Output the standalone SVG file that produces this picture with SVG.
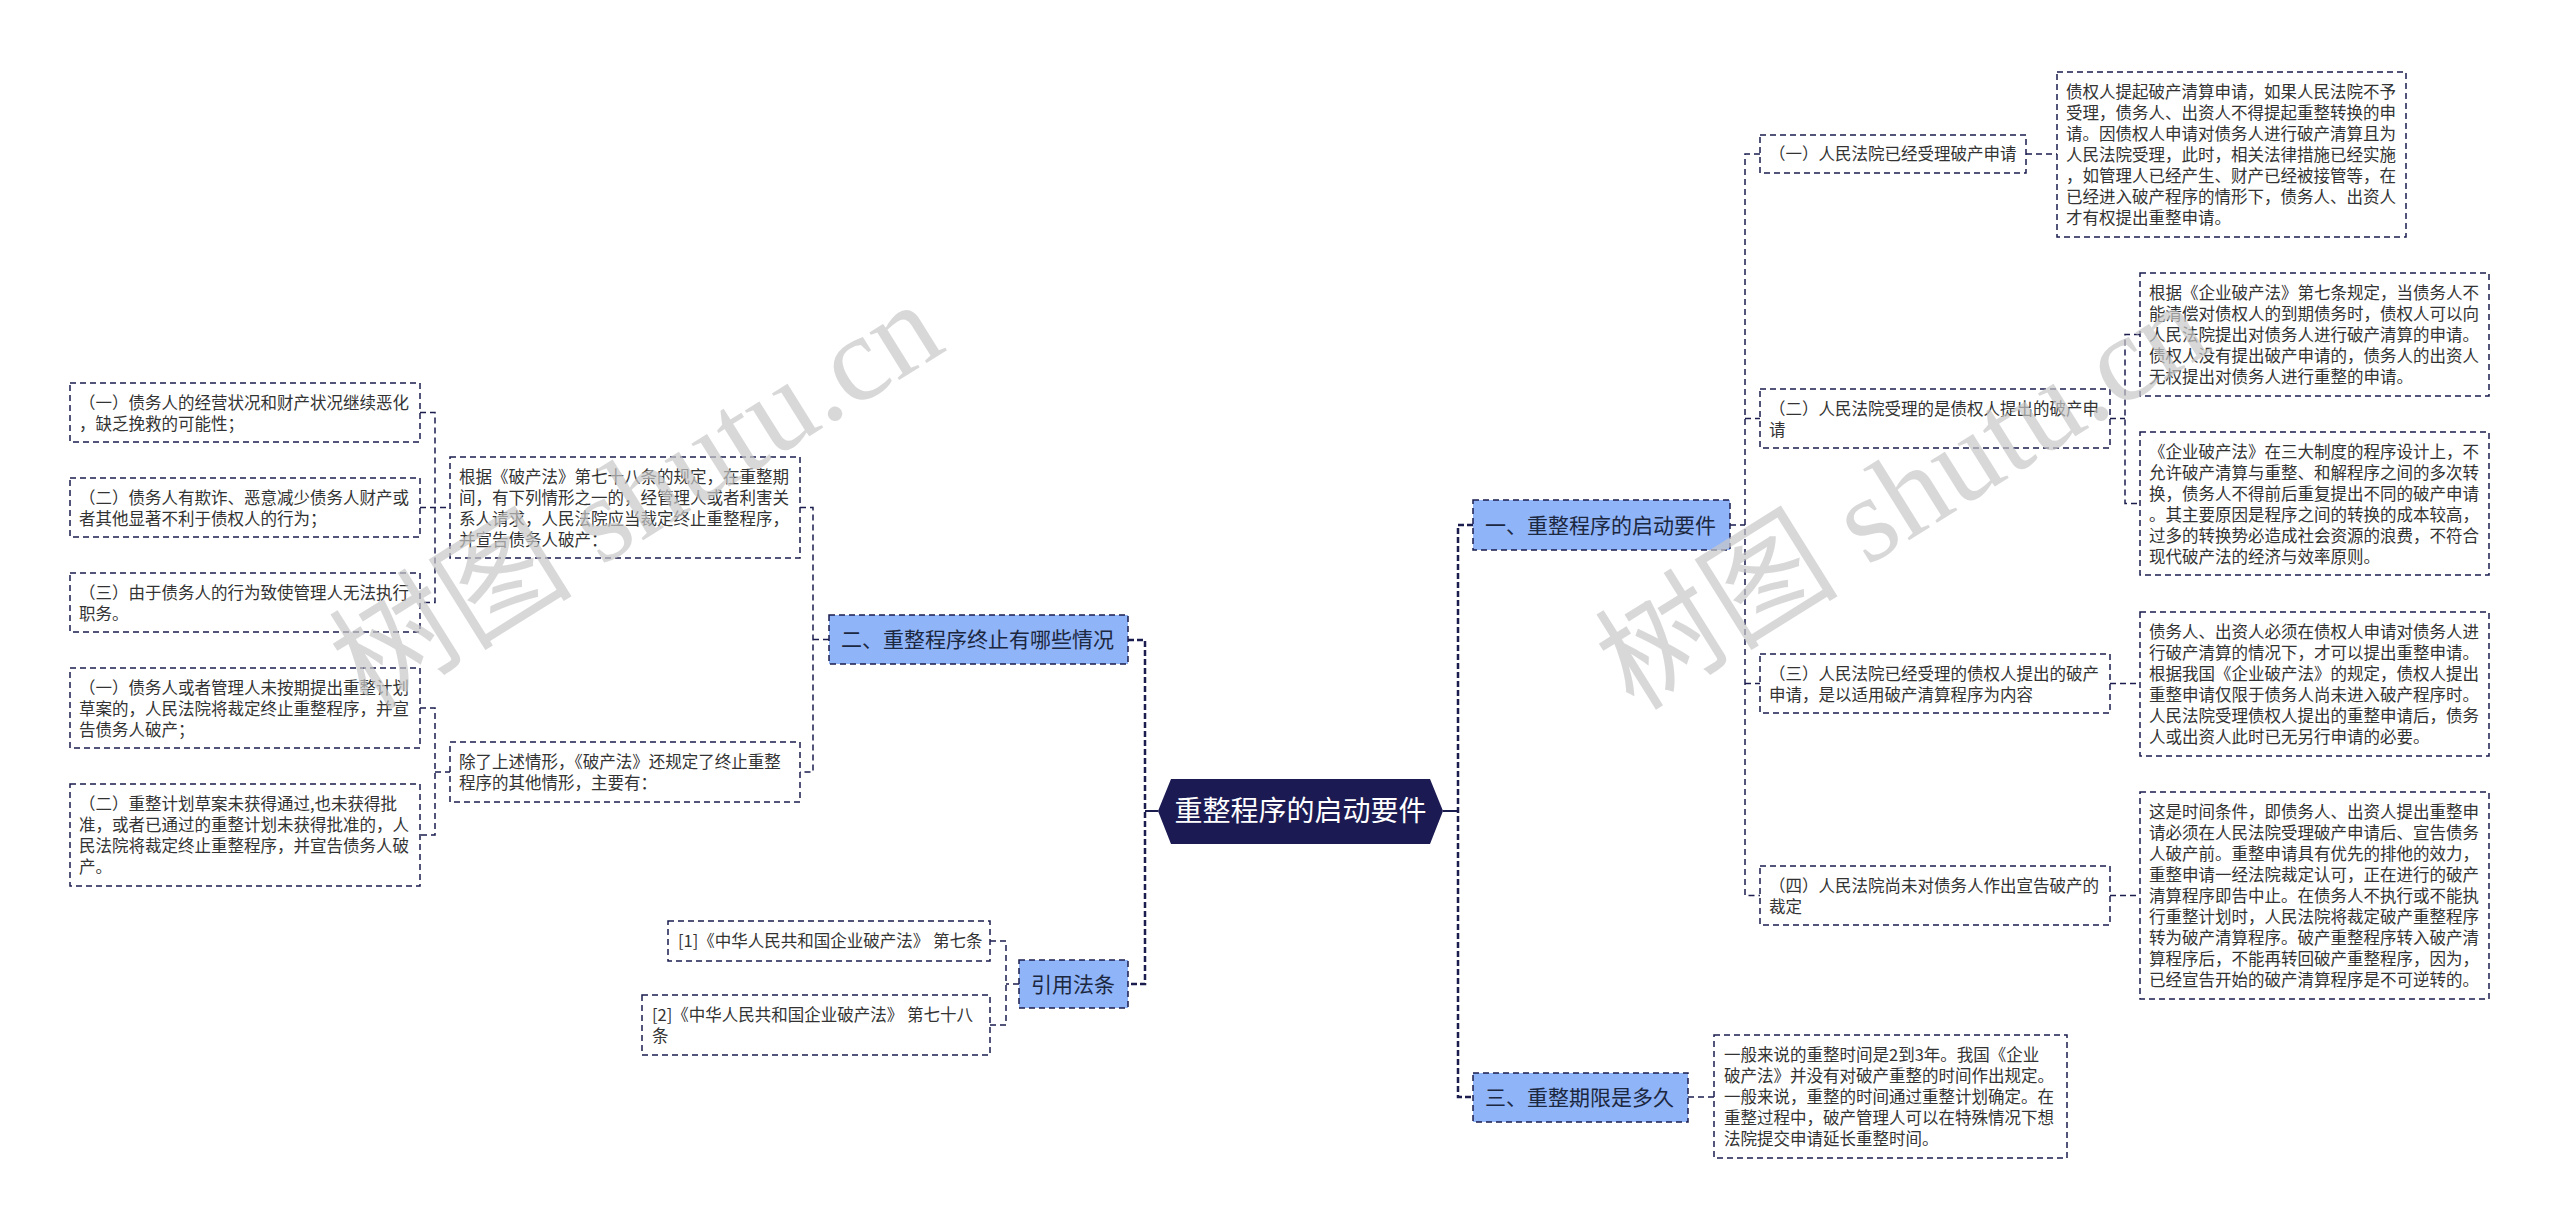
<svg xmlns="http://www.w3.org/2000/svg" width="2560" height="1230" viewBox="0 0 2560 1230">
<style>
.bg{fill:#ffffff}
.box{fill:#ffffff;stroke:#1a1d4d;stroke-width:1.5;stroke-dasharray:6 4}
.l1{fill:#8fb4f8;stroke:#1a1d4d;stroke-width:1.5;stroke-dasharray:6 4}
.t{font-family:"Noto Sans CJK SC","Noto Sans",sans-serif;font-size:16.5px;fill:#333333}
.t1{font-family:"Noto Sans CJK SC","Noto Sans",sans-serif;font-size:21px;fill:#1c2740}
.rt{font-family:"Noto Sans CJK SC","Noto Sans",sans-serif;font-size:28px;fill:#ffffff}
.c{fill:none;stroke:#1a1d4d;stroke-width:1.5;stroke-dasharray:6 4}
.ct{fill:none;stroke:#1a1d4d;stroke-width:2.5;stroke-dasharray:6 3}
.cs{fill:none;stroke:#1a1d4d;stroke-width:2}
.wm{font-family:"Liberation Serif","Noto Sans CJK SC",serif;font-size:122px;fill:#c8c8c8;fill-opacity:0.7}
</style>
<rect class="bg" x="0" y="0" width="2560" height="1230"/>

<g id="connectors">
  <path class="cs" d="M1158 811H1145M1443 811H1458"/>
  <path class="ct" d="M1128 640H1145V984H1128"/>
  <path class="ct" d="M1473 525H1458V1097H1473"/>
  <path class="c" d="M1730 525H1745M1760 154H1745V895.5H1760M1745 418.5H1760M1745 683.5H1760"/>
  <path class="c" d="M2026 154H2057"/>
  <path class="c" d="M2110 418.5H2125M2140 334.5H2125V503.5H2140"/>
  <path class="c" d="M2110 683.5H2140"/>
  <path class="c" d="M2110 895.5H2140"/>
  <path class="c" d="M1688 1097H1714"/>
  <path class="c" d="M829 639.5H813M800 507.5H813V772H800"/>
  <path class="c" d="M420 412.5H435V602.5H420M420 507.5H450"/>
  <path class="c" d="M420 708H435V835H420M435 772H450"/>
  <path class="c" d="M1019 984H1006M990 941H1006V1025H990"/>
</g>

<g id="root">
  <polygon points="1158,811 1171,779 1430,779 1443,811 1430,844 1171,844" fill="#1b1a52"/>
  <text class="rt" x="1300.5" y="821" text-anchor="middle">重整程序的启动要件</text>
</g>

<g id="n1">
  <rect class="l1" x="1473" y="500" width="257" height="50"/>
  <text class="t1" x="1485" y="532.5">一、重整程序的启动要件</text>
</g>
<g id="n3">
  <rect class="l1" x="1473" y="1073" width="215" height="49"/>
  <text class="t1" x="1485" y="1105">三、重整期限是多久</text>
</g>
<g id="n2">
  <rect class="l1" x="829" y="615" width="299" height="49"/>
  <text class="t1" x="841" y="647">二、重整程序终止有哪些情况</text>
</g>
<g id="n4">
  <rect class="l1" x="1019" y="960" width="109" height="48"/>
  <text class="t1" x="1031" y="991.5">引用法条</text>
</g>

<g id="c1">
  <rect class="box" x="1760" y="135" width="266" height="38"/>
  <text class="t" x="1769" y="160">（一）人民法院已经受理破产申请</text>
</g>
<g id="c2">
  <rect class="box" x="1760" y="389" width="350" height="59"/>
  <text class="t" x="1769" y="415"><tspan x="1769">（二）人民法院受理的是债权人提出的破产申</tspan><tspan x="1769" dy="21">请</tspan></text>
</g>
<g id="c3">
  <rect class="box" x="1760" y="654" width="350" height="59"/>
  <text class="t" x="1769" y="680"><tspan x="1769">（三）人民法院已经受理的债权人提出的破产</tspan><tspan x="1769" dy="21">申请，是以适用破产清算程序为内容</tspan></text>
</g>
<g id="c4">
  <rect class="box" x="1760" y="866" width="350" height="59"/>
  <text class="t" x="1769" y="892"><tspan x="1769">（四）人民法院尚未对债务人作出宣告破产的</tspan><tspan x="1769" dy="21">裁定</tspan></text>
</g>

<g id="d1">
  <rect class="box" x="2057" y="72" width="349" height="165"/>
  <text class="t" x="2066" y="98"><tspan x="2066">债权人提起破产清算申请，如果人民法院不予</tspan><tspan x="2066" dy="21">受理，债务人、出资人不得提起重整转换的申</tspan><tspan x="2066" dy="21">请。因债权人申请对债务人进行破产清算且为</tspan><tspan x="2066" dy="21">人民法院受理，此时，相关法律措施已经实施</tspan><tspan x="2066" dy="21">，如管理人已经产生、财产已经被接管等，在</tspan><tspan x="2066" dy="21">已经进入破产程序的情形下，债务人、出资人</tspan><tspan x="2066" dy="21">才有权提出重整申请。</tspan></text>
</g>
<g id="d2a">
  <rect class="box" x="2140" y="273" width="349" height="123"/>
  <text class="t" x="2149" y="299"><tspan x="2149">根据《企业破产法》第七条规定，当债务人不</tspan><tspan x="2149" dy="21">能清偿对债权人的到期债务时，债权人可以向</tspan><tspan x="2149" dy="21">人民法院提出对债务人进行破产清算的申请。</tspan><tspan x="2149" dy="21">债权人没有提出破产申请的，债务人的出资人</tspan><tspan x="2149" dy="21">无权提出对债务人进行重整的申请。</tspan></text>
</g>
<g id="d2b">
  <rect class="box" x="2140" y="432" width="349" height="143"/>
  <text class="t" x="2149" y="458"><tspan x="2149">《企业破产法》在三大制度的程序设计上，不</tspan><tspan x="2149" dy="21">允许破产清算与重整、和解程序之间的多次转</tspan><tspan x="2149" dy="21">换，债务人不得前后重复提出不同的破产申请</tspan><tspan x="2149" dy="21">。其主要原因是程序之间的转换的成本较高，</tspan><tspan x="2149" dy="21">过多的转换势必造成社会资源的浪费，不符合</tspan><tspan x="2149" dy="21">现代破产法的经济与效率原则。</tspan></text>
</g>
<g id="d3">
  <rect class="box" x="2140" y="612" width="349" height="144"/>
  <text class="t" x="2149" y="638"><tspan x="2149">债务人、出资人必须在债权人申请对债务人进</tspan><tspan x="2149" dy="21">行破产清算的情况下，才可以提出重整申请。</tspan><tspan x="2149" dy="21">根据我国《企业破产法》的规定，债权人提出</tspan><tspan x="2149" dy="21">重整申请仅限于债务人尚未进入破产程序时。</tspan><tspan x="2149" dy="21">人民法院受理债权人提出的重整申请后，债务</tspan><tspan x="2149" dy="21">人或出资人此时已无另行申请的必要。</tspan></text>
</g>
<g id="d4">
  <rect class="box" x="2140" y="792" width="349" height="207"/>
  <text class="t" x="2149" y="818"><tspan x="2149">这是时间条件，即债务人、出资人提出重整申</tspan><tspan x="2149" dy="21">请必须在人民法院受理破产申请后、宣告债务</tspan><tspan x="2149" dy="21">人破产前。重整申请具有优先的排他的效力，</tspan><tspan x="2149" dy="21">重整申请一经法院裁定认可，正在进行的破产</tspan><tspan x="2149" dy="21">清算程序即告中止。在债务人不执行或不能执</tspan><tspan x="2149" dy="21">行重整计划时，人民法院将裁定破产重整程序</tspan><tspan x="2149" dy="21">转为破产清算程序。破产重整程序转入破产清</tspan><tspan x="2149" dy="21">算程序后，不能再转回破产重整程序，因为，</tspan><tspan x="2149" dy="21">已经宣告开始的破产清算程序是不可逆转的。</tspan></text>
</g>
<g id="d5">
  <rect class="box" x="1714" y="1035" width="353" height="123"/>
  <text class="t" x="1724" y="1061"><tspan x="1724">一般来说的重整时间是2到3年。我国《企业</tspan><tspan x="1724" dy="21">破产法》并没有对破产重整的时间作出规定。</tspan><tspan x="1724" dy="21">一般来说，重整的时间通过重整计划确定。在</tspan><tspan x="1724" dy="21">重整过程中，破产管理人可以在特殊情况下想</tspan><tspan x="1724" dy="21">法院提交申请延长重整时间。</tspan></text>
</g>

<g id="a">
  <rect class="box" x="450" y="457" width="350" height="101"/>
  <text class="t" x="459" y="483"><tspan x="459">根据《破产法》第七十八条的规定，在重整期</tspan><tspan x="459" dy="21">间，有下列情形之一的，经管理人或者利害关</tspan><tspan x="459" dy="21">系人请求，人民法院应当裁定终止重整程序，</tspan><tspan x="459" dy="21">并宣告债务人破产：</tspan></text>
</g>
<g id="b">
  <rect class="box" x="450" y="742" width="350" height="60"/>
  <text class="t" x="459" y="768"><tspan x="459">除了上述情形，《破产法》还规定了终止重整</tspan><tspan x="459" dy="21">程序的其他情形，主要有：</tspan></text>
</g>
<g id="l1">
  <rect class="box" x="70" y="383" width="350" height="59"/>
  <text class="t" x="79" y="409"><tspan x="79">（一）债务人的经营状况和财产状况继续恶化</tspan><tspan x="79" dy="21">，缺乏挽救的可能性；</tspan></text>
</g>
<g id="l2">
  <rect class="box" x="70" y="478" width="350" height="59"/>
  <text class="t" x="79" y="504"><tspan x="79">（二）债务人有欺诈、恶意减少债务人财产或</tspan><tspan x="79" dy="21">者其他显著不利于债权人的行为；</tspan></text>
</g>
<g id="l3">
  <rect class="box" x="70" y="573" width="350" height="59"/>
  <text class="t" x="79" y="599"><tspan x="79">（三）由于债务人的行为致使管理人无法执行</tspan><tspan x="79" dy="21">职务。</tspan></text>
</g>
<g id="l4">
  <rect class="box" x="70" y="668" width="350" height="80"/>
  <text class="t" x="79" y="694"><tspan x="79">（一）债务人或者管理人未按期提出重整计划</tspan><tspan x="79" dy="21">草案的，人民法院将裁定终止重整程序，并宣</tspan><tspan x="79" dy="21">告债务人破产；</tspan></text>
</g>
<g id="l5">
  <rect class="box" x="70" y="784" width="350" height="102"/>
  <text class="t" x="79" y="810"><tspan x="79">（二）重整计划草案未获得通过,也未获得批</tspan><tspan x="79" dy="21">准，或者已通过的重整计划未获得批准的，人</tspan><tspan x="79" dy="21">民法院将裁定终止重整程序，并宣告债务人破</tspan><tspan x="79" dy="21">产。</tspan></text>
</g>

<g id="r1">
  <rect class="box" x="668" y="921" width="322" height="40"/>
  <text class="t" x="678" y="947">[1]《中华人民共和国企业破产法》 第七条</text>
</g>
<g id="r2">
  <rect class="box" x="642" y="995" width="348" height="60"/>
  <text class="t" x="652" y="1021"><tspan x="652">[2]《中华人民共和国企业破产法》 第七十八</tspan><tspan x="652" dy="21">条</tspan></text>
</g>

<g id="watermark">
  <text class="wm" transform="translate(368,712) rotate(-32)">树图 shutu.cn</text>
  <text class="wm" transform="translate(1634,712) rotate(-32)">树图 shutu.cn</text>
</g>
</svg>
